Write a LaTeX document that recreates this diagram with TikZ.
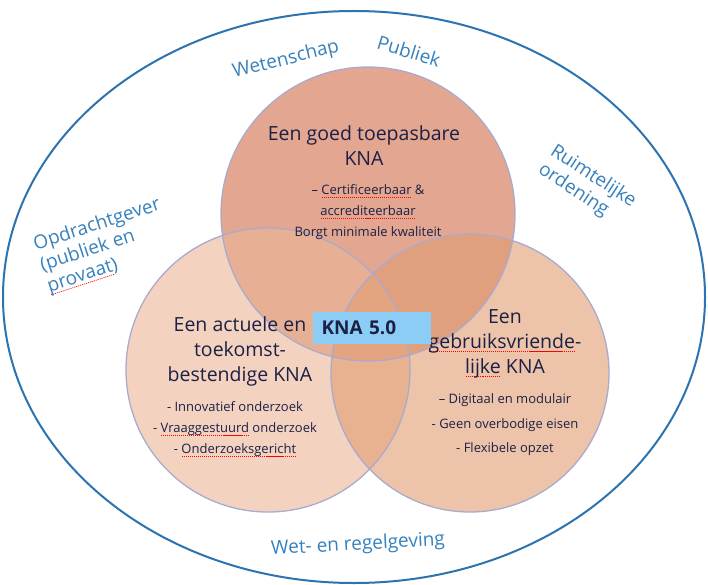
\documentclass[tikz,border=0pt]{standalone}
\usepackage{fontspec}
\setmainfont{Open Sans}
\usepackage{xcolor}
\usetikzlibrary{positioning}

\definecolor{navytext}{RGB}{28,32,70}
\definecolor{outerblue}{RGB}{45,115,175}
\definecolor{labelblue}{RGB}{55,130,190}
\definecolor{rimgray}{RGB}{170,170,205}
\definecolor{topfill}{RGB}{207,108,73}
\definecolor{leftfill}{RGB}{235,183,150}
\definecolor{rightfill}{RGB}{225,157,113}
\definecolor{knablue}{RGB}{140,205,245}

% red dotted line under words
\newsavebox{\spellbox}
\newcommand{\spell}[1]{\leavevmode\sbox{\spellbox}{#1}%
   \rlap{\textcolor{red}{\raisebox{-3.5pt}{\hbox to\wd\spellbox{\xleaders\hbox to 2pt{\hss\rule{1.1pt}{0.7pt}\hss}\hfill}}}}%
   \usebox{\spellbox}}

\tikzset{
   bubble/.style={fill opacity=0.6},
   rim/.style={draw=rimgray, line width=1.3pt},
   title/.style={align=center, text=navytext, font=\fontsize{19.5}{25}\selectfont},
   bullet/.style={align=center, text=navytext, font=\fontsize{13}{21}\selectfont},
   outerlabel/.style={text=labelblue, font=\fontsize{19}{22}\selectfont},
   knabox/.style={fill=knablue, text=navytext, text width=100pt, inner xsep=9pt,
      minimum height=32pt, font=\bfseries\fontsize{19}{19}\selectfont}
}

\begin{document}
\begin{tikzpicture}[x=1pt, y=-1pt]
   \useasboundingbox[fill=white] (0,0) rectangle (708,585);
   \draw[outerblue, line width=2pt] (354,297) ellipse [x radius=351, y radius=286];

   \fill[bubble, topfill] (368,214) circle [radius=147];
   \fill[bubble, leftfill] (268,370) circle [radius=142];
   \fill[bubble, rightfill] (470,373) circle [radius=139];
   \draw[rim] (368,214) circle [radius=147];
   \draw[rim] (268,370) circle [radius=142];
   \draw[rim] (470,373) circle [radius=139];

   \node[title] (goedtitle) at (364,146) {Een goed toepasbare\\KNA};
   \node[bullet] (goedlist) at (368,212) {-- \spell{Certificeerbaar} \&\\\spell{accrediteerbaar}\\Borgt minimale kwaliteit};

   \node[title] (actueeltitle) at (240,351) {Een actuele en\\toekomst-\\bestendige KNA};
   \node[bullet] (actueellist) at (235,429) {- Innovatief onderzoek\\- \spell{Vraaggestuurd} onderzoek\\- \spell{Onderzoeksgericht}};

   \node[title] (gebruiktitle) at (505,344) {Een\\\spell{gebruiksvriende}-\\\spell{lijke} KNA};
   \node[bullet, font=\fontsize{13}{24.5}\selectfont] (gebruiklist) at (505,425) {-- Digitaal en modulair\\- Geen overbodige eisen\\- Flexibele opzet};

   \node[knabox] (kna) at (371.5,328) {KNA 5.0};

   \node[outerlabel, rotate=14] (wetenschap) at (286,60) {Wetenschap};
   \node[outerlabel, rotate=-17] (publiek) at (409,51) {Publiek};
   \node[outerlabel, rotate=-33, align=left] (ruimte) at (587,186) {Ruimtelijke\\ordening};
   \node[outerlabel, rotate=18, align=left] (opdracht) at (104,246) {Opdrachtgever\\(publiek en\\\spell{provaat})};
   \node[outerlabel, rotate=3] (wetgeving) at (358,545) {Wet- en regelgeving};
\end{tikzpicture}
\end{document}
